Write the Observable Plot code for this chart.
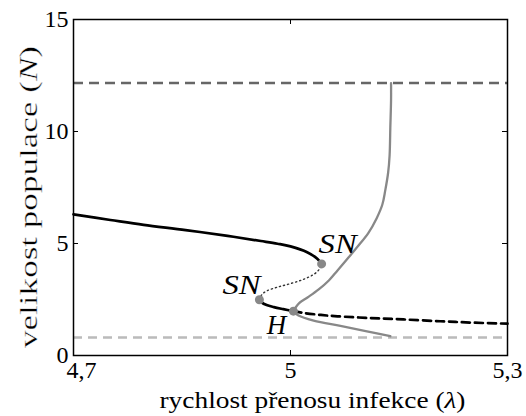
<!DOCTYPE html>
<html>
<head>
<meta charset="utf-8">
<script src="https://cdn.jsdelivr.net/npm/d3@7"></script>
<script src="https://cdn.jsdelivr.net/npm/@observablehq/plot@0.6"></script>
<style>
  body { margin: 0; background: #fff; }
</style>
</head>
<body>
<div id="chart"></div>
<script>
// Axis ticks
const xTicks = [4.7, 5, 5.3];
const yTicks = [0, 5, 10, 15];

// Stable upper equilibrium branch (up to the right saddle-node)
const upperLambda = [4.700, 4.751, 4.797, 4.855, 4.913, 4.959, 4.982, 5.000, 5.023, 5.037, 5.043];
const upperN      = [6.30, 6.05, 5.83, 5.60, 5.34, 5.11, 4.99, 4.87, 4.61, 4.32, 4.09];

// Unstable middle branch between the two saddle-nodes
const middleLambda = [4.957, 4.960, 4.967, 4.983, 5.000, 5.018, 5.033, 5.040, 5.043];
const middleN      = [2.49, 2.70, 2.88, 3.06, 3.21, 3.40, 3.64, 3.86, 4.09];

// Stable lower branch from the left saddle-node to the Hopf point
const lowerLambda = [4.957, 4.960, 4.967, 4.977, 4.990, 5.004];
const lowerN      = [2.49, 2.37, 2.25, 2.16, 2.07, 1.98];

// Unstable branch beyond the Hopf point
const hopfLambda = [5.004, 5.018, 5.042, 5.065, 5.111, 5.156, 5.207, 5.249, 5.300];
const hopfN      = [1.98, 1.90, 1.81, 1.75, 1.67, 1.61, 1.53, 1.47, 1.42];

// Limit cycle extremes (max above, min below), meeting at the Hopf point
const cycleLambda = [5.139, 5.139, 5.138, 5.137, 5.135, 5.131, 5.127, 5.119, 5.108, 5.094, 5.079, 5.065,
                     5.053, 5.039, 5.024, 5.012, 5.007, 5.004, 5.011, 5.032, 5.069, 5.104, 5.138];
const cycleN      = [12.16, 11.38, 10.18, 8.93, 8.17, 7.37, 6.74, 6.12, 5.49, 4.91, 4.33, 3.80,
                     3.35, 2.95, 2.60, 2.34, 2.14, 1.98, 1.79, 1.56, 1.32, 1.09, 0.86];

// Bifurcation points
const snLambda = [5.043, 4.957];
const snN      = [4.09, 2.49];
const hLambda  = [5.004];
const hN       = [1.98];

// Horizontal reference levels
const upperLevel = [12.16];
const lowerLevel = [0.80];

// Axis titles (the middle part is the italic symbol)
const xTitle = ["rychlost přenosu infekce (", "λ", ")"];
const yTitle = ["velikost populace (", "N", ")"];

const zip = (xs, ys) => xs.map((x, i) => ({x, y: ys[i]}));
const comma = d => String(d).replace(".", ",");

const W = 526, H = 416;
const mL = 73, mR = 19, mT = 19, mB = 61;
const fw = W - mL - mR, fh = H - mT - mB;
const tick = 5;
const fs = 24;

const chart = Plot.plot({
  width: W,
  height: H,
  marginLeft: mL,
  marginRight: mR,
  marginTop: mT,
  marginBottom: mB,
  style: {fontFamily: "'Liberation Serif', serif", fontSize: `${fs}px`, background: "#fff", color: "#000"},
  x: {domain: [4.7, 5.3]},
  y: {domain: [0, 15]},
  marks: [
    Plot.ruleY(upperLevel, {y: d => d, stroke: "#666", strokeWidth: 2.5, strokeDasharray: "10,6"}),
    Plot.ruleY(lowerLevel, {y: d => d, stroke: "#bbb", strokeWidth: 2.5, strokeDasharray: "9,6"}),
    Plot.line(zip(cycleLambda, cycleN), {x: "x", y: "y", stroke: "#888", strokeWidth: 2.3, curve: "catmull-rom"}),
    Plot.line(zip(upperLambda, upperN), {x: "x", y: "y", stroke: "#000", strokeWidth: 2.7, curve: "catmull-rom"}),
    Plot.line(zip(lowerLambda, lowerN), {x: "x", y: "y", stroke: "#000", strokeWidth: 2.7, curve: "catmull-rom"}),
    Plot.line(zip(hopfLambda, hopfN), {x: "x", y: "y", stroke: "#000", strokeWidth: 2.7, strokeDasharray: "8,5", curve: "catmull-rom"}),
    Plot.line(zip(middleLambda, middleN), {x: "x", y: "y", stroke: "#333", strokeWidth: 1.4, strokeDasharray: "1.2,3", curve: "catmull-rom"}),
    Plot.dot(zip(snLambda, snN), {x: "x", y: "y", r: 4.5, fill: "#888", stroke: "none"}),
    Plot.dot(zip(hLambda, hN), {x: "x", y: "y", r: 4.5, fill: "#888", stroke: "none"}),
    // point labels
    Plot.text(zip(snLambda.slice(0, 1), snN.slice(0, 1)), {x: "x", y: "y", text: () => "SN", fontStyle: "italic", fontSize: 27,
      textAnchor: "start", lineAnchor: "bottom", dx: -3, dy: -11, className: "pt-label"}),
    Plot.text(zip(snLambda.slice(1), snN.slice(1)), {x: "x", y: "y", text: () => "SN", fontStyle: "italic", fontSize: 27,
      textAnchor: "end", lineAnchor: "bottom", dx: 1, dy: -6, className: "pt-label"}),
    Plot.text(zip(hLambda, hN), {x: "x", y: "y", text: () => "H", fontStyle: "italic", fontSize: 27,
      textAnchor: "middle", lineAnchor: "bottom", dx: -17, dy: 23}),
    // frame and inward ticks on all four sides
    Plot.frame({stroke: "#000", strokeWidth: 1.5}),
    Plot.ruleX(xTicks, {x: d => d, insetTop: fh - tick, stroke: "#000"}),
    Plot.ruleX(xTicks, {x: d => d, insetBottom: fh - tick, stroke: "#000"}),
    Plot.ruleY(yTicks, {y: d => d, insetRight: fw - tick, stroke: "#000"}),
    Plot.ruleY(yTicks, {y: d => d, insetLeft: fw - tick, stroke: "#000"}),
    Plot.axisX(xTicks.slice(0, 1), {tickSize: 0, tickPadding: 5, tickFormat: comma, fontSize: fs, dx: 8, label: null}),
    Plot.axisX(xTicks.slice(1), {tickSize: 0, tickPadding: 5, tickFormat: comma, fontSize: fs, label: null}),
    Plot.axisY(yTicks, {tickSize: 0, tickPadding: 5, tickFormat: comma, fontSize: fs, label: null}),
    // axis titles
    Plot.text([xTitle.join("")], {frameAnchor: "bottom", textAnchor: "middle", lineAnchor: "bottom",
      dx: 22, dy: 52, fontSize: fs, className: "x-title"}),
    Plot.text([yTitle.join("")], {frameAnchor: "left", textAnchor: "middle", lineAnchor: "bottom", rotate: -90,
      dx: -37, dy: 9.5, fontSize: 25, className: "y-title"})
  ]
});

// axis titles: italic symbol, and the run length of the title along its axis
function styleTitle(cls, parts, length) {
  d3.select(chart).selectAll(`g.${cls} text`).each(function () {
    const t = d3.select(this);
    t.text(null);
    parts.forEach((p, i) => {
      const s = t.append("tspan").text(p);
      if (i === 1) s.attr("font-style", "italic");
    });
    t.attr("textLength", length).attr("lengthAdjust", "spacingAndGlyphs");
  });
}
styleTitle("x-title", xTitle, 306);
styleTitle("y-title", yTitle, 302);

// keep the stretched vertical title about as light as the other texts
d3.select(chart).selectAll("g.y-title text")
  .attr("stroke", "#fff").attr("stroke-width", 0.35).attr("paint-order", "fill");

// math-style spacing for the SN labels
d3.select(chart).selectAll("g.pt-label text")
  .attr("textLength", 38).attr("lengthAdjust", "spacingAndGlyphs");

document.getElementById("chart").append(chart);
</script>
</body>
</html>
